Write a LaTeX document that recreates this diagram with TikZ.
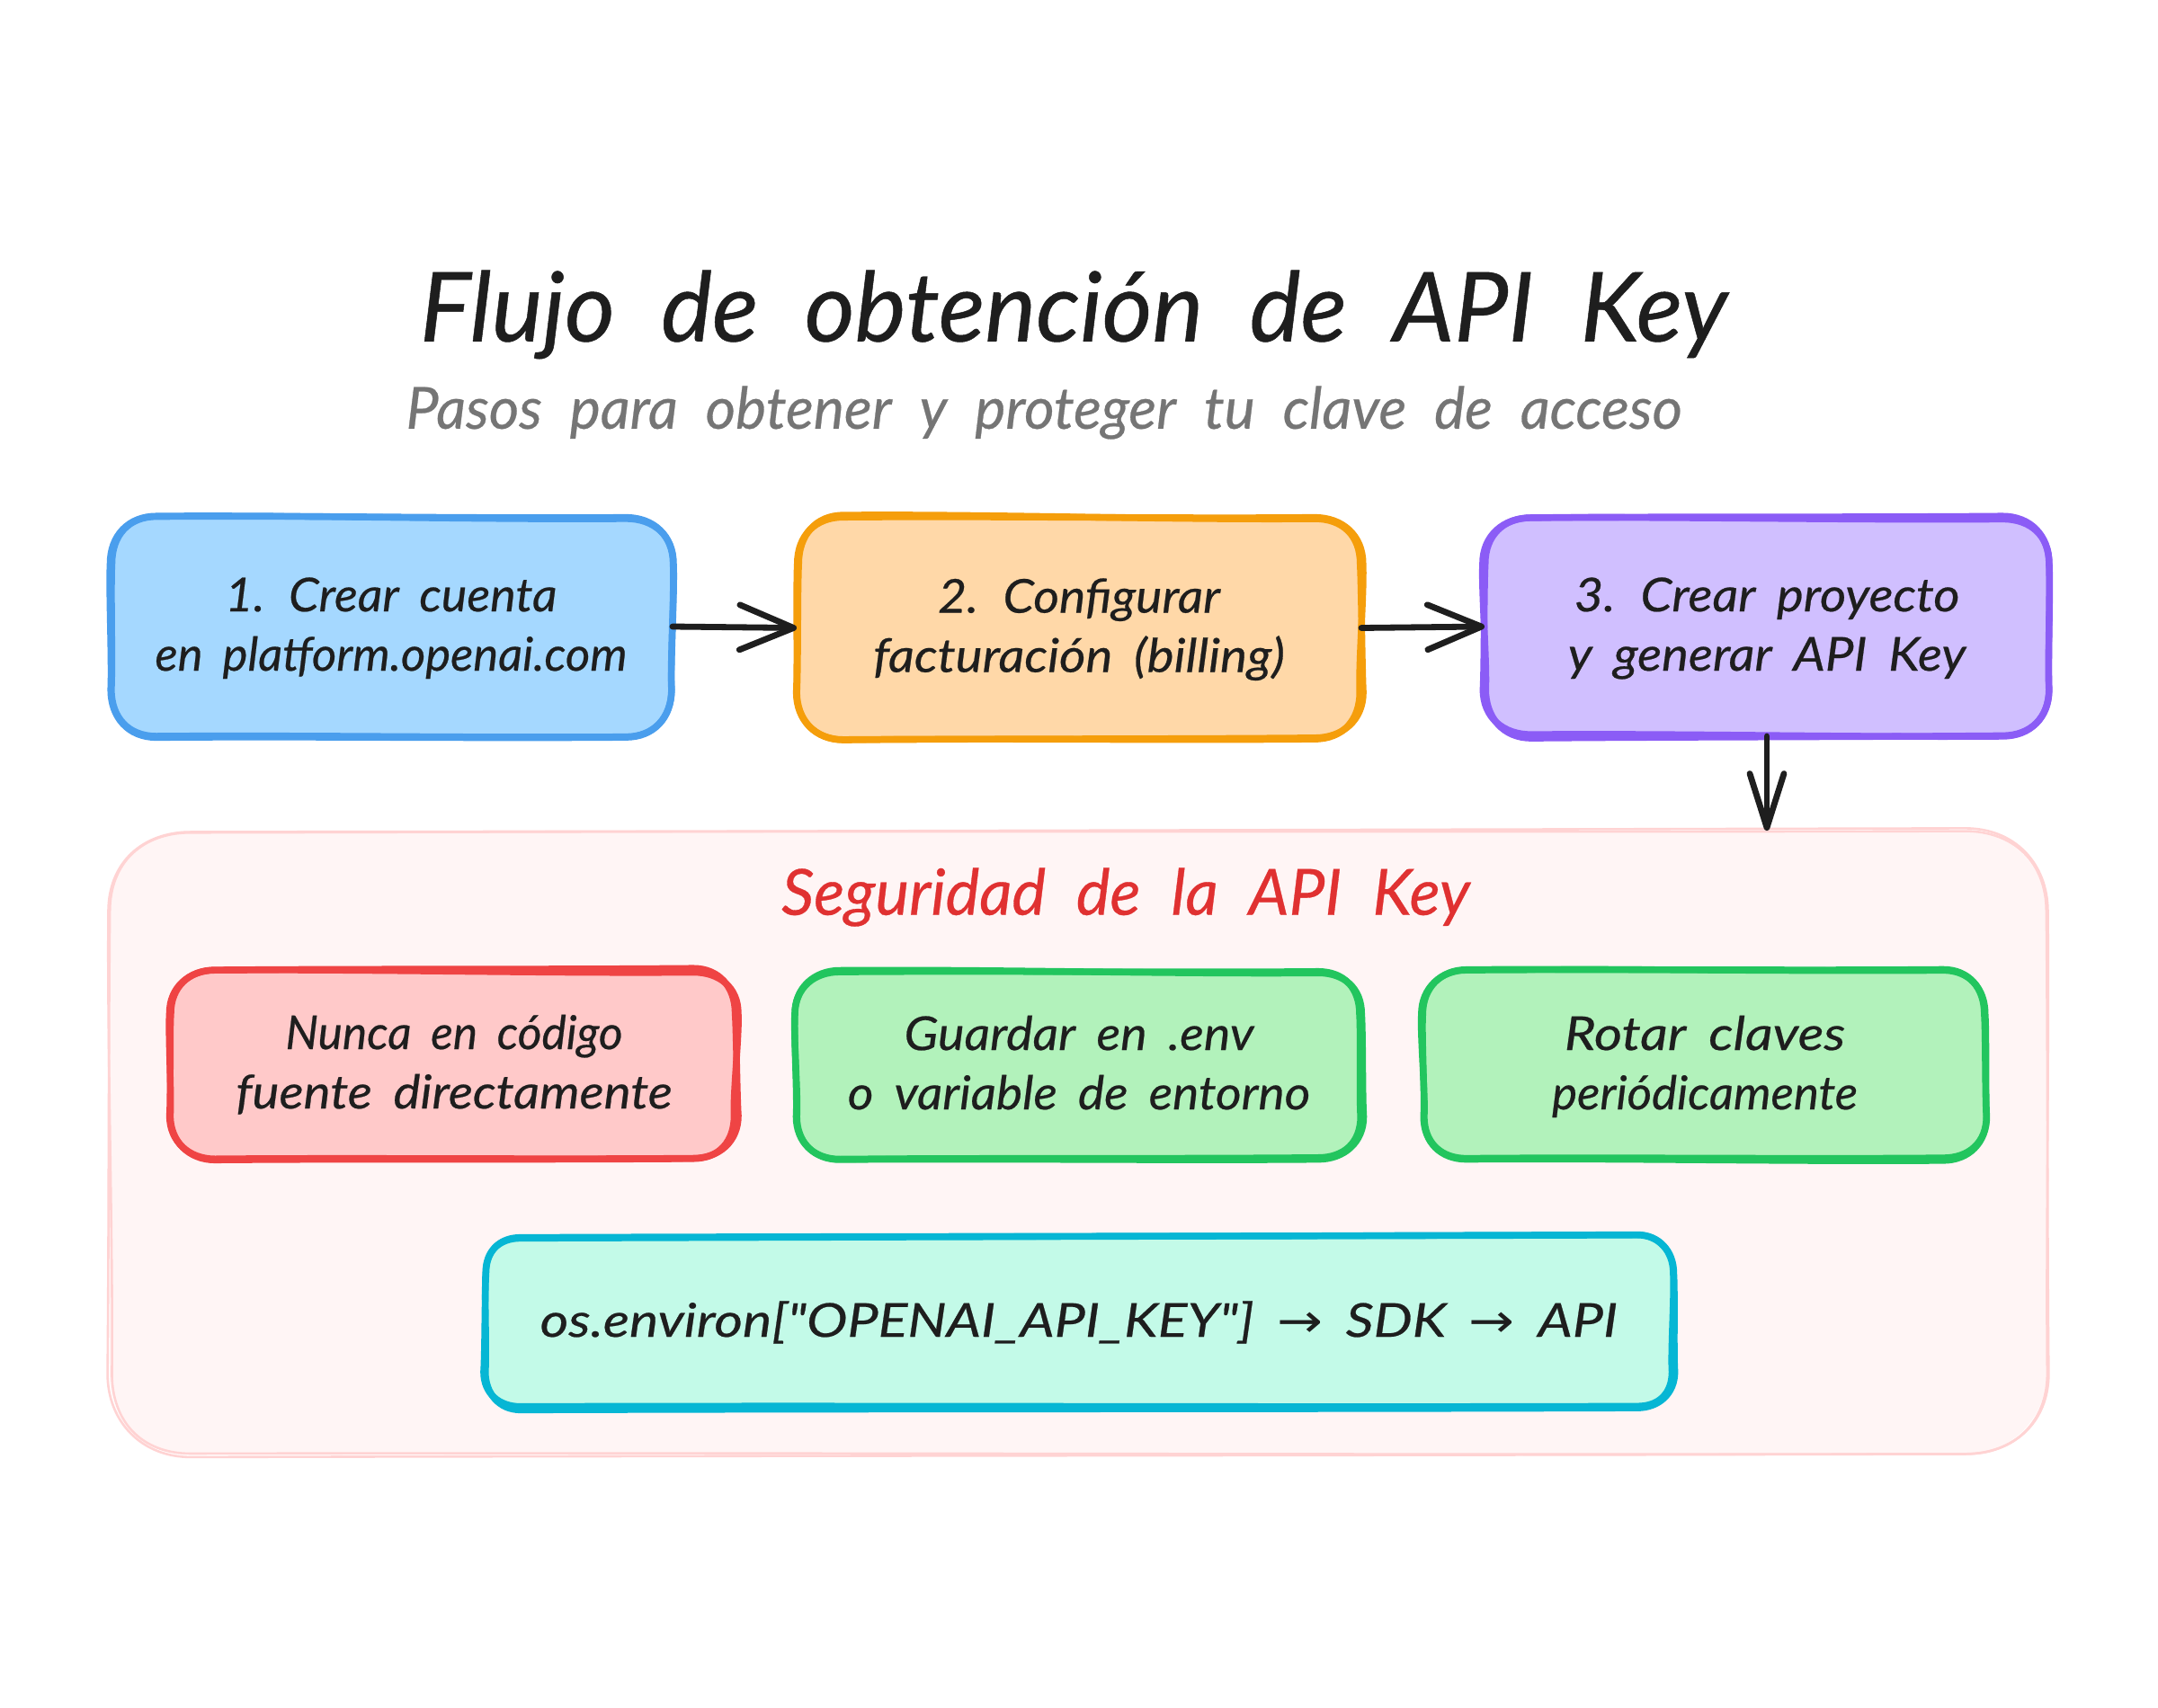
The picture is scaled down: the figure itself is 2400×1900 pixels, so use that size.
\documentclass[tikz,border=0pt]{standalone}
\usepackage{fontspec}
\usepackage{graphicx}
\newfontfamily\hand{Lato}[ItalicFeatures={FakeBold=0.45}]
\newfontfamily\arrowfont{DejaVu Sans}
\usetikzlibrary{arrows.meta}
\newdimen\dsp \dsp=0.7653pt
% one line of text, stretched across the measured width, keeping its height
\newcommand\fitw[2]{\resizebox{#1\dsp}{\height}{\hand\itshape\spaceskip=0.42em\relax\vphantom{Á}\rule[-8pt]{0pt}{1pt}#2}}
% same, scaling in proportion
\newcommand\fith[2]{\resizebox{#1\dsp}{!}{\hand\itshape\spaceskip=0.48em\relax #2}}
\definecolor{ink}{HTML}{1E1E1E}
\definecolor{subgrey}{HTML}{757575}
\definecolor{secred}{HTML}{E03131}
\definecolor{bluefill}{HTML}{A5D8FF}\definecolor{bluestroke}{HTML}{4A9EED}
\definecolor{orangefill}{HTML}{FFD8A8}\definecolor{orangestroke}{HTML}{F59E0B}
\definecolor{purplefill}{HTML}{D0BFFF}\definecolor{purplestroke}{HTML}{8B5CF6}
\definecolor{secfill}{HTML}{FFF5F5}\definecolor{secstroke}{HTML}{FFD3D3}
\definecolor{redfill}{HTML}{FFC9C9}\definecolor{redstroke}{HTML}{EF4444}
\definecolor{greenfill}{HTML}{B2F2BB}\definecolor{greenstroke}{HTML}{22C55E}
\definecolor{cyanfill}{HTML}{C3FAE8}\definecolor{cyanstroke}{HTML}{06B6D4}
\tikzset{
  boxbase/.style={inner sep=0pt,outer sep=0pt,align=center,text=ink,
    font=\fontsize{26}{33}\selectfont},
  connector/.style={draw=ink,line width=3.4pt,line cap=round,line join=round,
    -{Straight Barb[length=30pt,width=25pt,line width=3.4pt,round]}},
  connectordown/.style={draw=ink,line width=3.4pt,line cap=round,line join=round,
    -{Straight Barb[length=30pt,width=19pt,line width=3.4pt,round]}},
  headline/.style={inner sep=0pt,outer sep=0pt}
}
\newcommand\jit[1]{\pgfmathsetmacro#1{(rand*\jamp)}}
\newcommand\roughpass[2]{%
  \jit\ja\jit\jb\jit\jc\jit\jd\jit\je\jit\jf\jit\jg\jit\jh
  \draw[draw=#1,line width=#2,line join=round,line cap=round]
   (\rr,\ja) .. controls ({\bw/3},{\ja-1.5}) and ({2*\bw/3},{\jb+1.5}) .. ({\bw-\rr},\jb)
   .. controls ({\bw-.4*\rr},\jb) and ({\bw+\jc},{.4*\rr}) .. ({\bw+\jc},\rr)
   .. controls ({\bw+\jc+1.5},{\bh/3}) and ({\bw+\jd-1.5},{2*\bh/3}) .. ({\bw+\jd},{\bh-\rr})
   .. controls ({\bw+\jd},{\bh-.4*\rr}) and ({\bw-.4*\rr},{\bh+\je}) .. ({\bw-\rr},{\bh+\je})
   .. controls ({2*\bw/3},{\bh+\je+1.5}) and ({\bw/3},{\bh+\jf-1.5}) .. (\rr,{\bh+\jf})
   .. controls ({.4*\rr},{\bh+\jf}) and (\jg,{\bh-.4*\rr}) .. (\jg,{\bh-\rr})
   .. controls ({\jg+1.5},{2*\bh/3}) and ({\jh-1.5},{\bh/3}) .. (\jh,\rr)
   .. controls (\jh,{.4*\rr}) and ({.4*\rr},\ja) .. cycle;}
% name, x0, y0, x1, y1, fill, stroke, line width, text
\newcommand\sketchbox[9]{%
  \pgfmathsetmacro\bw{#4-#2}\pgfmathsetmacro\bh{#5-#3}%
  \node[boxbase,fill=#6,rounded corners=\rr*0.5pt,minimum width=\bw*0.5pt,minimum height=\bh*0.5pt]
     (#1) at ({(#2+#4)/2},{(#3+#5)/2}) {#9};
  \begin{scope}[shift={(#2,#3)}]
    \roughpass{#7}{#8}\roughpass{#7}{#8}
  \end{scope}}
\begin{document}
\begin{tikzpicture}[x=0.5pt,y=-0.5pt]
\useasboundingbox (0,0) rectangle (2400,1900);
\fill[white] (0,0) rectangle (2400,1900);
\pgfmathsetseed{7}
\def\jamp{2.6}
\node[headline,text=ink] (title) at (1194,350) {\fontsize{40}{48}\selectfont\fith{950}{Flujo de obtención de API Key}};
\node[headline,text=subgrey] (subtitle) at (1161,459) {\fontsize{24}{30}\selectfont\fith{927}{Pasos para obtener y proteger tu clave de acceso}};

\def\rr{52}
\sketchbox{stepa}{122}{575}{748}{819}{bluefill}{bluestroke}{3.7pt}{\fitw{241}{1. Crear cuenta}\\\fitw{343}{en platform.openai.com}}
\sketchbox{stepb}{886}{575}{1514}{822}{orangefill}{orangestroke}{3.7pt}{\fitw{205}{2. Configurar}\\\fitw{299}{facturación (billing)}}
\sketchbox{stepc}{1651}{575}{2279}{819}{purplefill}{purplestroke}{3.7pt}{\fitw{280}{3. Crear proyecto}\\\fitw{289}{y generar API Key}}

\def\rr{90}\def\jamp{3}
\sketchbox{security}{122}{924}{2276}{1618}{secfill}{secstroke}{1.3pt}{}
\node[headline,text=secred] (sectitle) at (1252,998) {\fontsize{28}{34}\selectfont\fith{500}{Seguridad de la API Key}};

\def\rr{48}\def\jamp{2.6}
\sketchbox{never}{191}{1079}{819}{1289}{redfill}{redstroke}{3.7pt}{\fitw{245}{Nunca en código}\\\fitw{317}{fuente directamente}}
\sketchbox{store}{886}{1080}{1514}{1290}{greenfill}{greenstroke}{3.7pt}{\fitw{254}{Guardar en .env}\\\fitw{336}{o variable de entorno}}
\sketchbox{rotate}{1583}{1080}{2209}{1290}{greenfill}{greenstroke}{3.7pt}{\fitw{204}{Rotar claves}\\\fitw{222}{periódicamente}}
\def\rr{40}
\sketchbox{flow}{539}{1376}{1861}{1566}{cyanfill}{cyanstroke}{3.7pt}{\fitw{783}{os.environ["OPENAI\_API\_KEY"] {\arrowfont→} SDK {\arrowfont→} API}}

\draw[connector] (stepa.east) -- (stepb.west);
\draw[connector] (stepb.east) -- (stepc.west);
\draw[connectordown] (stepc.south) -- (security.north -| stepc.south);
\end{tikzpicture}
\end{document}
